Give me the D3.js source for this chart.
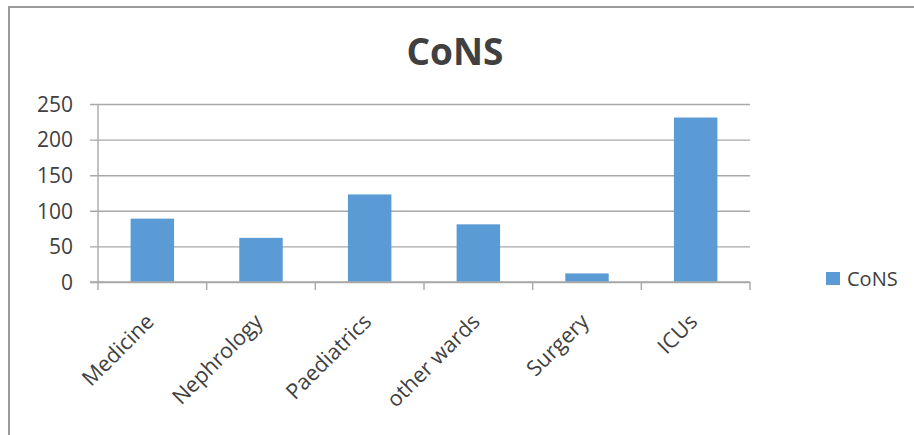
<!DOCTYPE html>
<html>
<head>
<meta charset="utf-8">
<script src="https://cdn.jsdelivr.net/npm/d3@7"></script>
<style>
  html, body { margin: 0; padding: 0; background: #fff; }
  svg { display: block; }
  text { font-family: "Open Sans", "Noto Sans", sans-serif; fill: #404040; }
</style>
</head>
<body>
<svg id="chart" width="914" height="435"></svg>
<script>
const categories = ["Medicine", "Nephrology", "Paediatrics", "other wards", "Surgery", "ICUs"];
const values = [89, 62, 123, 81, 12, 231];
const yTicks = [0, 50, 100, 150, 200, 250];
const seriesName = "CoNS";
const titleText = "CoNS";

const svg = d3.select("#chart");
const W = 914, H = 435;
const plot = { left: 98, right: 750, top: 104, bottom: 282 };

// chart frame (extends beyond right/bottom edges like the reference)
svg.append("path")
  .attr("d", `M9,${H + 5} L9,7 L${W + 5},7`)
  .attr("fill", "none")
  .attr("stroke", "#9a9c9a")
  .attr("stroke-width", 2);

const x = d3.scaleBand().domain(categories).range([plot.left, plot.right]).paddingInner(0).paddingOuter(0);
const y = d3.scaleLinear().domain([0, 250]).range([plot.bottom, plot.top]);

// gridlines + y tick marks
const yAxis = d3.axisLeft(y).tickValues(yTicks).tickSize(0).tickPadding(0).tickFormat(d3.format("d"));
const gy = svg.append("g").attr("transform", `translate(${plot.left},0)`).call(yAxis);
gy.select(".domain").remove();
gy.selectAll(".tick text").remove();
gy.selectAll(".tick").append("line")
  .attr("x1", -8).attr("x2", plot.right - plot.left)
  .attr("stroke", "#a8a8a8").attr("stroke-width", 1.4);
gy.selectAll(".tick").append("text")
  .attr("x", -25).attr("dy", "0.35em")
  .attr("text-anchor", "end")
  .style("font-size", "21px")
  .text(d => d);

// vertical axis line
svg.append("line")
  .attr("x1", plot.left).attr("x2", plot.left)
  .attr("y1", y(250)).attr("y2", plot.bottom + 8)
  .attr("stroke", "#a8a8a8").attr("stroke-width", 1.4);

// x tick marks at band boundaries
const boundaries = categories.map(c => x(c)).concat([x(categories[categories.length - 1]) + x.bandwidth()]);
svg.append("g").selectAll("line").data(boundaries.slice(1)).join("line")
  .attr("x1", d => d).attr("x2", d => d)
  .attr("y1", plot.bottom).attr("y2", plot.bottom + 8)
  .attr("stroke", "#a8a8a8").attr("stroke-width", 1.4);

// bars
const bw = x.bandwidth() * 0.4;
svg.append("g").selectAll("rect").data(categories).join("rect")
  .attr("x", (c) => x(c) + (x.bandwidth() - bw) / 2)
  .attr("width", bw)
  .attr("y", (c, i) => y(values[i]))
  .attr("height", (c, i) => y(0) - y(values[i]))
  .attr("fill", "#5b9bd5");

// redraw baseline over bars
svg.append("line")
  .attr("x1", plot.left - 8).attr("x2", plot.right)
  .attr("y1", y(0)).attr("y2", y(0))
  .attr("stroke", "#a8a8a8").attr("stroke-width", 1.4);

// x labels, rotated -45, ending just right of the band centre
svg.append("g").selectAll("text").data(categories).join("text")
  .attr("transform", c => `translate(${x(c) + x.bandwidth() / 2 + 3},323) rotate(-45)`)
  .attr("text-anchor", "end")
  .style("font-size", "21.5px")
  .text(c => c);

// title
svg.append("text")
  .attr("x", 455).attr("y", 65)
  .attr("text-anchor", "middle")
  .style("font-size", "37px")
  .style("font-weight", "700")
  .text(titleText);

// legend
svg.append("rect").attr("x", 826).attr("y", 272).attr("width", 14).attr("height", 13).attr("fill", "#5b9bd5");
svg.append("text").attr("x", 847).attr("y", 286).style("font-size", "20px").text(seriesName);
</script>
</body>
</html>
